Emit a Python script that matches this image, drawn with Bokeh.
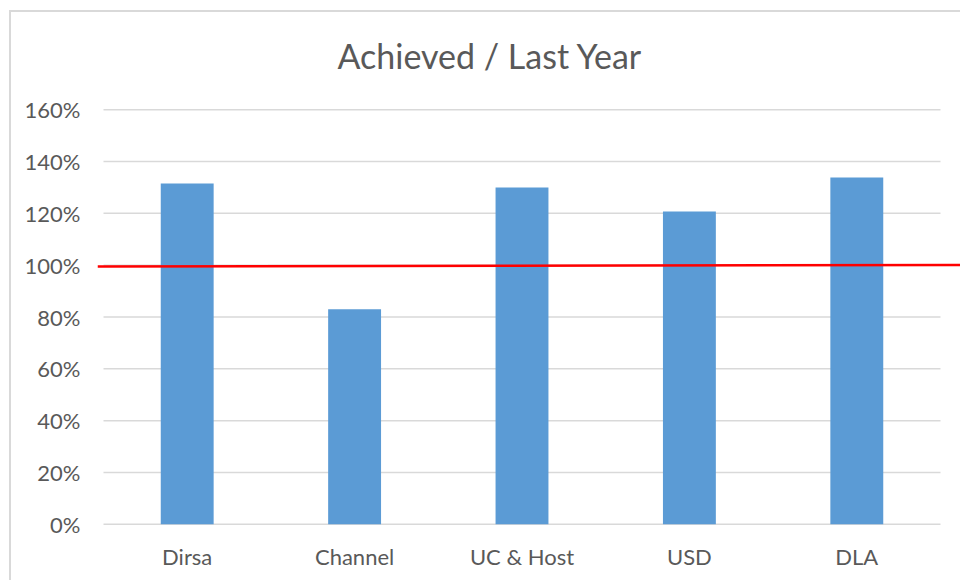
from bokeh.plotting import figure
from bokeh.models import Range1d, FixedTicker, NumeralTickFormatter, ColumnDataSource, Title
from bokeh.embed import file_html
from bokeh.resources import INLINE

# ---- data ----
categories = ["Dirsa", "Channel", "UC & Host", "USD", "DLA"]
achieved = [1.315, 0.83, 1.30, 1.207, 1.338]
y_ticks = [0.0, 0.2, 0.4, 0.6, 0.8, 1.0, 1.2, 1.4, 1.6]
target_line_y = [0.995, 1.001]

# ---- style / layout ----
FONT = "Lato"
TEXT = "#595959"
GRID = "#D9D9D9"
BAR = "#5B9BD5"
W, H = 960, 580
ML, MR, MT, MB = 97, 0, 104, 51
frame_w = W - ML - MR
band_px = 167.4
left_gap_px = 6
x_start = -0.5 - left_gap_px / band_px
x_end = x_start + frame_w / band_px

idx = list(range(len(categories)))
src = ColumnDataSource(dict(x=idx, top=achieved, cat=categories))

p = figure(width=W, height=H, output_backend="svg", toolbar_location=None,
           x_range=Range1d(x_start, x_end), y_range=Range1d(-0.02, 1.62),
           min_border_left=ML, min_border_right=MR, min_border_top=MT, min_border_bottom=MB)
p.title = Title(text="Achieved / Last Year", align="left", text_font=FONT,
                text_font_size="34px", text_font_style="normal", text_color=TEXT,
                offset=240, standoff=57)
p.outline_line_color = None
p.xgrid.visible = False
p.ygrid.visible = False
p.background_fill_color = "white"
p.border_fill_alpha = 0
p.styles = {
    "background": ("linear-gradient(#D9D9D9,#D9D9D9) 9px 10px / 2px calc(100% - 10px) no-repeat, "
                   "linear-gradient(#D9D9D9,#D9D9D9) 9px 10px / calc(100% - 9px) 2px no-repeat, white"),
}

# grid lines across category bands
n = len(categories)
p.segment(x0=[-0.5] * len(y_ticks), x1=[n - 0.5] * len(y_ticks), y0=y_ticks, y1=y_ticks,
          line_color=GRID, line_width=1.5)

p.vbar(x="x", top="top", bottom=0, width=0.316, source=src, fill_color=BAR, line_color=None)

p.line(x=[x_start, x_end], y=target_line_y, line_color="#FF0000", line_width=2.5)

ya = p.yaxis[0]
ya.ticker = FixedTicker(ticks=y_ticks)
ya.formatter = NumeralTickFormatter(format="0%")
ya.axis_line_color = None
ya.major_tick_line_color = None
ya.minor_tick_line_color = None
ya.major_tick_out = 0
ya.major_label_standoff = 17
ya.major_label_text_font = FONT
ya.major_label_text_font_size = "22px"
ya.major_label_text_color = TEXT

xa = p.xaxis[0]
xa.ticker = FixedTicker(ticks=idx)
xa.major_label_overrides = {i: c for i, c in zip(idx, categories)}
xa.axis_line_color = None
xa.major_tick_line_color = None
xa.minor_tick_line_color = None
xa.major_tick_out = 0
xa.major_label_standoff = 13
xa.major_label_text_font = FONT
xa.major_label_text_font_size = "22px"
xa.major_label_text_color = TEXT

open("out.html", "w").write(file_html(p, INLINE))
